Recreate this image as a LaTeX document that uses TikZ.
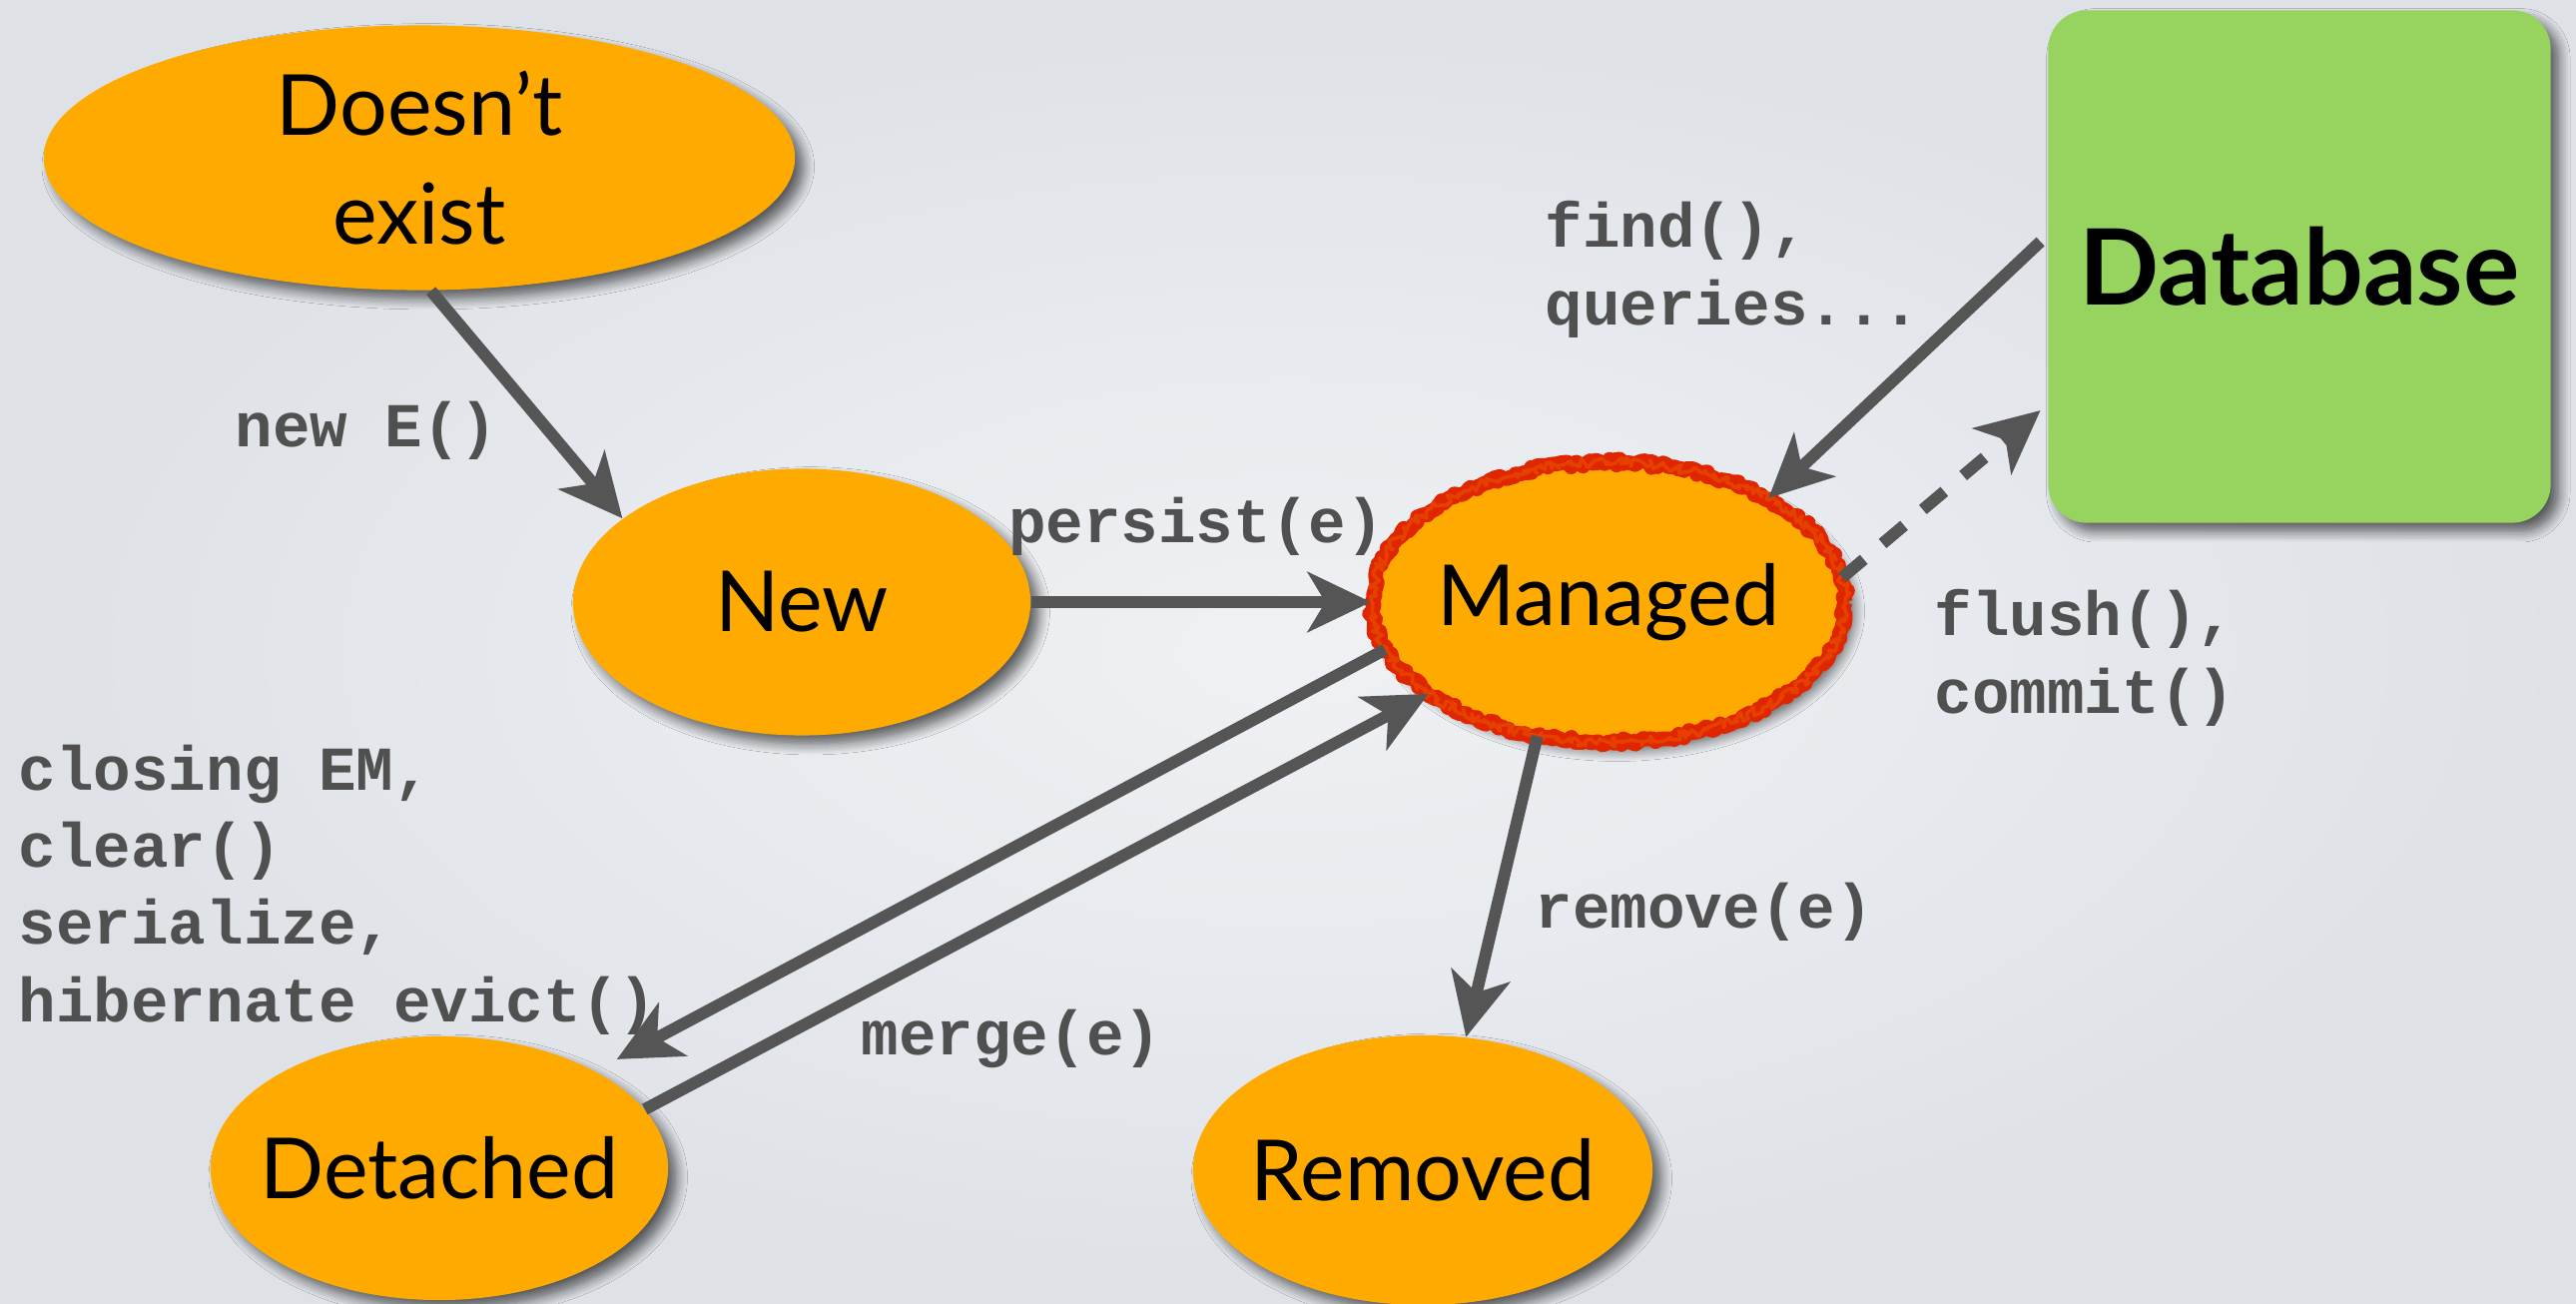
\documentclass[tikz,border=0pt]{standalone}
\usepackage{fontspec}
\setmainfont{Lato}
\newfontfamily\codefont{Liberation Mono}
\usepackage{xcolor}
\usepackage{tikz}
\usetikzlibrary{shapes.geometric, arrows.meta, shadows.blur, decorations.pathmorphing, calc}

\definecolor{stateorange}{RGB}{255,170,0}
\definecolor{dbgreen}{RGB}{150,212,95}
\definecolor{managedred}{RGB}{224,38,0}
\definecolor{arrowgray}{RGB}{85,85,85}
\definecolor{labelgray}{RGB}{80,80,80}
\definecolor{bginner}{RGB}{239,241,244}
\definecolor{bgouter}{RGB}{222,226,231}

\begin{document}
\begin{tikzpicture}[x=0.01cm,y=-0.01cm,>={Stealth[length=18pt,width=17pt,inset=5pt]}]
			\tikzstyle{softshadow}=[blur shadow={shadow xshift=2.5pt,shadow yshift=-2.5pt,shadow blur radius=3pt,shadow blur steps=8,shadow opacity=60}]
			\tikzstyle{state}=[ellipse,fill=stateorange,inner sep=-12pt,font=\fontsize{24}{31}\selectfont,softshadow]
			\tikzstyle{trans}=[->,color=arrowgray,line width=3.4pt]
			\tikzstyle{op}=[text=labelgray,font=\codefont\bfseries\fontsize{17.8}{22}\selectfont,align=left,inner sep=0pt]
			
			% backdrop
			\shade[inner color=bginner,outer color=bgouter] (0,0) rectangle (2580,1306);
			\useasboundingbox (0,0) rectangle (2580,1306);
			
			\node[state,minimum width=7.52cm,minimum height=2.65cm,align=center] (ne) at (420,158) {Doesn't\\exist};
			\node[state,minimum width=4.58cm,minimum height=2.67cm] (new) at (803,603) {New};
			\node[state,minimum width=4.74cm,minimum height=2.8cm,
				postaction={draw=managedred,line width=4.2pt,line join=round,decorate,
					decoration={random steps,segment length=1pt,amplitude=.9pt}},
				postaction={draw=managedred!80!stateorange,line width=1pt,line join=round,decorate,
					decoration={random steps,segment length=.8pt,amplitude=1.4pt}}] (mg) at (1611,603) {Managed};
			\node[state,minimum width=4.58cm,minimum height=2.64cm] (det) at (440,1170) {Detached};
			\node[state,minimum width=4.6cm,minimum height=2.7cm] (rm) at (1425,1172) {Removed};
			\node[rectangle,rounded corners=11pt,fill=dbgreen,minimum width=5.03cm,minimum height=5.13cm,
				font=\bfseries\fontsize{30}{36}\selectfont,softshadow] (db) at (2303,267) {Database};
			
			\path[trans] (ne.275) edge (new.155)
			(new.east) edge (mg.west)
			($(db.west)+(-7,-25)$) edge (mg.33)
			(mg.242) edge (rm.72)
			(mg.192) edge[shorten >=7pt] (det.32)
			(det.16) edge (mg.207);
			\path[trans,dash pattern=on 8pt off 7pt] (mg.6) edge ($(db.west)+(-7,144)$);
			
			% operation labels
			\node[op] (lnew) at (367,431) {new E()};
			\node[op,anchor=base] (lpersist) at (1198,543) {persist(e)};
			\node[op,anchor=west] (lfind) at (1547,270) {find(),\\queries...};
			\node[op,anchor=west] (lflush) at (1937,659) {flush(),\\commit()};
			\node[op,anchor=west] (lremove) at (1537,913) {remove(e)};
			\node[op,anchor=west] (lmerge) at (862,1040) {merge(e)};
			\node[op,anchor=west] (ldetach) at (18,891) {closing EM,\\clear()\\serialize,\\hibernate evict()};
		\end{tikzpicture}
\end{document}
